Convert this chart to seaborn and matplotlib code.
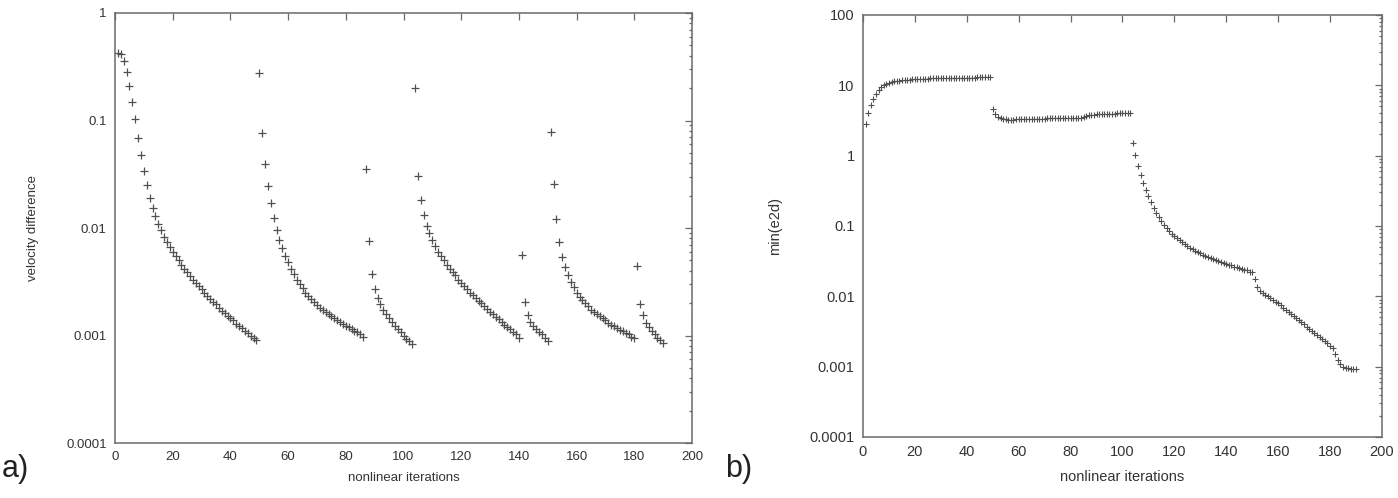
import numpy as np
import pandas as pd
import matplotlib
matplotlib.use("Agg")
import matplotlib.pyplot as plt
import seaborn as sns
from matplotlib.ticker import FixedLocator, LogLocator, NullFormatter

# panel a) velocity difference, log10 values, one list per restart
vel_seg1 = [-0.37, -0.38, -0.45, -0.55, -0.68, -0.83, -0.99, -1.16, -1.32, -1.47,
            -1.60, -1.72, -1.81, -1.89, -1.96, -2.02, -2.08, -2.13, -2.18, -2.22,
            -2.26, -2.30, -2.34, -2.38, -2.41, -2.45, -2.48, -2.51, -2.54, -2.57,
            -2.60, -2.63, -2.66, -2.69, -2.71, -2.74, -2.77, -2.79, -2.82, -2.84,
            -2.86, -2.89, -2.91, -2.93, -2.96, -2.98, -3.00, -3.02, -3.04]
vel_seg2 = [-0.56, -1.12, -1.40, -1.61, -1.77, -1.91, -2.02, -2.11, -2.19, -2.26,
            -2.32, -2.38, -2.43, -2.48, -2.52, -2.56, -2.60, -2.63, -2.66, -2.69,
            -2.72, -2.74, -2.76, -2.78, -2.80, -2.82, -2.84, -2.86, -2.87, -2.89,
            -2.91, -2.92, -2.94, -2.96, -2.97, -2.99, -3.01]
vel_seg3 = [-1.45, -2.12, -2.43, -2.57, -2.65, -2.71, -2.76, -2.80, -2.84, -2.87,
            -2.91, -2.94, -2.97, -3.00, -3.03, -3.05, -3.08]
vel_seg4 = [-0.70, -1.52, -1.74, -1.88, -1.98, -2.05, -2.11, -2.17, -2.22, -2.26,
            -2.30, -2.34, -2.38, -2.41, -2.44, -2.48, -2.51, -2.54, -2.57, -2.60,
            -2.62, -2.65, -2.68, -2.70, -2.73, -2.75, -2.78, -2.80, -2.83, -2.85,
            -2.87, -2.90, -2.92, -2.94, -2.97, -2.99, -3.02]
vel_seg5 = [-2.25, -2.69, -2.81, -2.87, -2.91, -2.94, -2.97, -2.99, -3.02, -3.05]
vel_seg6 = [-1.11, -1.59, -1.92, -2.13, -2.27, -2.36, -2.44, -2.50, -2.55, -2.60,
            -2.64, -2.67, -2.70, -2.73, -2.76, -2.78, -2.80, -2.82, -2.84, -2.86,
            -2.88, -2.90, -2.91, -2.93, -2.95, -2.96, -2.98, -2.99, -3.01, -3.02]
vel_seg7 = [-2.35, -2.71, -2.81, -2.88, -2.92, -2.96, -2.99, -3.02, -3.04, -3.07]

# panel b) min(e2d), log10 values
e2d_seg1 = [0.45, 0.60, 0.72, 0.81, 0.88, 0.93, 0.97, 1.00, 1.02, 1.035,
            1.045, 1.055, 1.06, 1.065, 1.07, 1.074, 1.078, 1.081, 1.084, 1.087,
            1.089, 1.091, 1.093, 1.095, 1.097, 1.098, 1.099, 1.100, 1.101, 1.102,
            1.103, 1.104, 1.105, 1.106, 1.107, 1.107, 1.108, 1.109, 1.109, 1.110,
            1.110, 1.111, 1.111, 1.112, 1.112, 1.113, 1.113, 1.114, 1.114]
e2d_seg2 = [0.66, 0.59, 0.55, 0.53, 0.52, 0.515, 0.512, 0.512, 0.513, 0.515,
            0.517, 0.518, 0.520, 0.521, 0.522, 0.523, 0.524, 0.525, 0.526, 0.527,
            0.528, 0.529, 0.530, 0.531, 0.532, 0.533, 0.534, 0.535, 0.536, 0.537,
            0.538, 0.539, 0.540, 0.541, 0.542, 0.545, 0.565, 0.578, 0.582, 0.585,
            0.587, 0.589, 0.591, 0.593, 0.594, 0.596, 0.597, 0.598, 0.600, 0.601,
            0.602, 0.603, 0.604, 0.605]
e2d_seg3 = [0.18, 0.01, -0.14, -0.28, -0.39, -0.49, -0.58, -0.66, -0.74, -0.81,
            -0.87, -0.93, -0.98, -1.03, -1.07, -1.11, -1.14, -1.17, -1.20, -1.23,
            -1.26, -1.28, -1.31, -1.33, -1.35, -1.37, -1.39, -1.41, -1.43, -1.44,
            -1.46, -1.47, -1.49, -1.50, -1.51, -1.53, -1.54, -1.55, -1.56, -1.58,
            -1.59, -1.60, -1.61, -1.62, -1.63, -1.65, -1.66, -1.76, -1.87, -1.92,
            -1.95, -1.98, -2.00, -2.03, -2.05, -2.08, -2.10, -2.13, -2.16, -2.19,
            -2.22, -2.25, -2.28, -2.31, -2.34, -2.37, -2.40, -2.43, -2.46, -2.49,
            -2.52, -2.55, -2.58, -2.61, -2.64, -2.67, -2.70, -2.73, -2.82, -2.90,
            -2.96, -3.00, -3.02, -3.02, -3.03, -3.03, -3.03]

x_ticks = [0, 20, 40, 60, 80, 100, 120, 140, 160, 180, 200]
vel_ticks = [0.0001, 0.001, 0.01, 0.1, 1]
vel_tick_labels = ["0.0001", "0.001", "0.01", "0.1", "1"]
e2d_ticks = [0.0001, 0.001, 0.01, 0.1, 1, 10, 100]
e2d_tick_labels = ["0.0001", "0.001", "0.01", "0.1", "1", "10", "100"]

vel_log = vel_seg1 + vel_seg2 + vel_seg3 + vel_seg4 + vel_seg5 + vel_seg6 + vel_seg7
e2d_log = e2d_seg1 + e2d_seg2 + e2d_seg3
df_a = pd.DataFrame({"iteration": range(1, len(vel_log) + 1), "vel": 10.0 ** np.array(vel_log)})
df_b = pd.DataFrame({"iteration": range(1, len(e2d_log) + 1), "e2d": 10.0 ** np.array(e2d_log)})

sns.set_theme(style="white")
plt.rcParams['font.family'] = ['Liberation Sans', 'DejaVu Sans']

txt = "#333333"
edge = "#6a6a6a"
mark = "#505050"

fig = plt.figure(figsize=(13.98, 4.98), dpi=100)
ax1 = fig.add_axes([0.0823, 0.1104, 0.4127, 0.8635])
ax2 = fig.add_axes([0.6173, 0.1225, 0.3712, 0.8474])

sns.scatterplot(data=df_a, x="iteration", y="vel", marker="+", color=mark,
                s=30, linewidth=0.9, ax=ax1, legend=False)
sns.scatterplot(data=df_b, x="iteration", y="e2d", marker="+", color=mark,
                s=18, linewidth=0.8, ax=ax2, legend=False)


def style_axes(ax, ticks, labels, fs):
    ax.set_yscale("log")
    ax.set_xlim(0, 200)
    ax.set_ylim(ticks[0], ticks[-1])
    ax.xaxis.set_major_locator(FixedLocator(x_ticks))
    ax.set_xticklabels([str(t) for t in x_ticks])
    ax.yaxis.set_major_locator(FixedLocator(ticks))
    ax.set_yticklabels(labels)
    ax.yaxis.set_minor_locator(LogLocator(base=10, subs=np.arange(2, 10), numticks=20))
    ax.yaxis.set_minor_formatter(NullFormatter())
    ax.tick_params(which="both", direction="in", top=True, right=True,
                   color=edge, labelcolor=txt, labelsize=fs, pad=6, width=0.9)
    ax.tick_params(which="major", length=5)
    ax.tick_params(which="minor", length=2.5)
    for sp in ax.spines.values():
        sp.set_color(edge)
        sp.set_linewidth(1.1)
    ax.grid(False)


style_axes(ax1, vel_ticks, vel_tick_labels, 9.5)
style_axes(ax2, e2d_ticks, e2d_tick_labels, 10.5)

ax1.set_xlabel("nonlinear iterations", fontsize=9.5, color=txt)
ax1.set_ylabel("velocity difference", fontsize=9.5, color=txt)
ax1.xaxis.set_label_coords(0.5, -0.067)
ax1.yaxis.set_label_coords(-0.132, 0.5)

ax2.set_xlabel("nonlinear iterations", fontsize=10.5, color=txt)
ax2.set_ylabel("min(e2d)", fontsize=10.5, color=txt)
ax2.xaxis.set_label_coords(0.5, -0.078)
ax2.yaxis.set_label_coords(-0.156, 0.5)

# panel tags
fig.text(0.001, 0.042, "a)", fontsize=22, color="#222222", va="baseline")
fig.text(0.5186, 0.042, "b)", fontsize=22, color="#222222", va="baseline")

fig.savefig("out.png", dpi=100, facecolor="white")
